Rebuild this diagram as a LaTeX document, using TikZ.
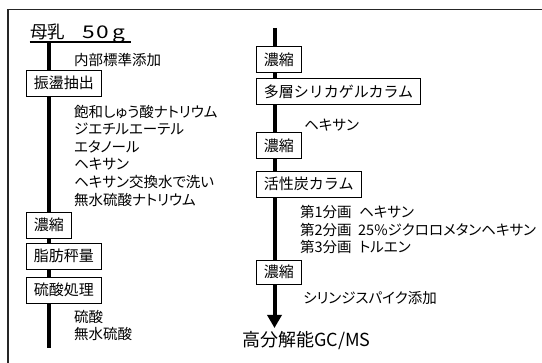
\documentclass[tikz,border=0pt]{standalone}
\usepackage{fontspec}
\setmainfont{Noto Sans CJK JP}
\newfontfamily\propjp[RawFeature=+palt]{Noto Sans CJK JP}
\usetikzlibrary{arrows.meta}
\tikzset{
 box/.style={draw=black, line width=0.9pt, fill=white, anchor=west, inner xsep=7.5pt, inner ysep=0pt, minimum height=26pt, font=\fontsize{15}{15}\selectfont},
 lbl/.style={anchor=west, inner sep=0pt, font=\propjp\fontsize{14.5}{14.5}\selectfont},
 flow/.style={line width=4pt},
}
\begin{document}
\begin{tikzpicture}[x=1pt,y=-1pt]
\useasboundingbox (0,0) rectangle (542,363);
\coordinate (f1) at (8,363); \coordinate (f2) at (8,9.5); \coordinate (f3) at (542,9.5);
\draw[line width=1.5pt, black!85] (f1) -- (f2) -- (f3);
\coordinate (L) at (49,0);
\coordinate (R) at (274.5,0);
% title
\node[anchor=base west, inner sep=0pt, font=\fontsize{17.5}{17.5}\selectfont] (title) at (30,38.5) {母乳\hspace{17pt}\scalebox{1.3}[1]{5\hspace{1.5pt}0\hspace{2.5pt}g}};
\coordinate (u1) at (29.5,42); \coordinate (u2) at (131,42);
\draw[line width=1.2pt] (u1) -- (u2);
% left boxes
\node[box] (b1) at (26,83) {振盪抽出};
\node[box] (b2) at (26,225) {濃縮};
\node[box] (b3) at (26,256) {脂肪秤量};
\node[box] (b4) at (26,290) {硫酸処理};
% left labels
\node[lbl] (t0) at (74,60) {内部標準添加};
\node[lbl] (t1) at (74,112) {飽和しゅう酸ナトリウム};
\node[lbl] (t2) at (74,129.5) {ジエチルエーテル};
\node[lbl] (t3) at (74,147) {エタノール};
\node[lbl] (t4) at (74,164.5) {ヘキサン};
\node[lbl] (t5) at (74,182) {ヘキサン交換水で洗い};
\node[lbl] (t6) at (74,199.5) {無水硫酸ナトリウム};
\node[lbl] (t7) at (74,317) {硫酸};
\node[lbl] (t8) at (74,334) {無水硫酸};
% left flow
\coordinate (L0) at (49,42);
\coordinate (Lend) at (49,348);
\draw[flow] (L0) -- (b1.north -| L);
\draw[flow] (b1.south -| L) -- (b2.north -| L);
\draw[flow] (b2.south -| L) -- (b3.north -| L);
\draw[flow] (b3.south -| L) -- (b4.north -| L);
\draw[flow] (b4.south -| L) -- (Lend);
% right boxes
\node[box] (r1) at (256,59.5) {濃縮};
\node[box] (r2) at (256,91.5) {多層シリカゲルカラム};
\node[box] (r3) at (256,145.5) {濃縮};
\node[box] (r4) at (256,184) {活性炭カラム};
\node[box, minimum height=24pt] (r5) at (256,272) {濃縮};
% right labels
\node[lbl] (s1) at (304,125) {ヘキサン};
\node[lbl] (s2) at (300,212) {\makebox[59pt][l]{第1分画}ヘキサン};
\node[lbl] (s3) at (300,229.5) {\makebox[58pt][l]{第2分画}25\%ジクロロメタンヘキサン};
\node[lbl] (s4) at (300,247) {\makebox[59pt][l]{第3分画}トルエン};
\node[lbl] (s5) at (303,298) {シリンジスパイク添加};
\node[anchor=base west, inner sep=0pt, font=\fontsize{18}{18}\selectfont] (gc) at (242,347) {高分解能GC/MS};
% right flow
\coordinate (R0) at (274.5,28);
\coordinate (Rend) at (274.5,328);
\draw[flow] (R0) -- (r1.north -| R);
\draw[flow] (r1.south -| R) -- (r2.north -| R);
\draw[flow] (r2.south -| R) -- (r3.north -| R);
\draw[flow] (r3.south -| R) -- (r4.north -| R);
\draw[flow] (r4.south -| R) -- (r5.north -| R);
\draw[flow, -{Triangle[length=13pt,width=14pt]}] (r5.south -| R) -- (Rend);
\end{tikzpicture}
\end{document}
